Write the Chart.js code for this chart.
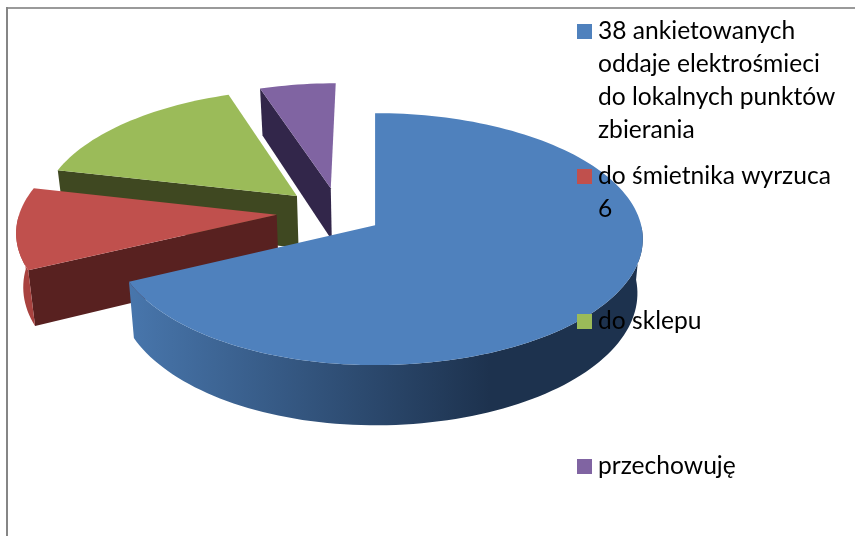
<!DOCTYPE html>
<html>
<head>
<meta charset="utf-8">
<title>Elektrośmieci</title>
<script src="https://cdn.jsdelivr.net/npm/chart.js@4"></script>
<style>
    html, body { margin: 0; padding: 0; background: #fff; }
    canvas { display: block; }
</style>
</head>
<body>
<canvas id="myChart" width="855" height="536"></canvas>
<script>
// chart data
const categories= [
    ['38 ankietowanych', 'oddaje elektrośmieci', 'do lokalnych punktów', 'zbierania'],
    ['do śmietnika wyrzuca', '6'],
    ['do sklepu'],
    ['przechowuję']
];
const values= [38, 6, 9, 3];
const topColors= ['#4F81BD', '#C0504D', '#9BBB59', '#8064A2'];
const cutColors= ['#2A4568', '#582120', '#3F4821', '#32264A'];

// view of the tilted pie, fitted to the picture
const apexX= 375, apexY= 225;       // tip of the blue slice on screen
const shiftU= -0.17, shiftV= -0.106; // real pie centre, relative to that tip
const widthRight= 266, widthLeft= 260, heightY= 124.4, tilt= 0.111, depth= 53.5;
const floorScale= 0.98;             // bottom face looks a bit narrower
const sliceNudge= [0, -3, 3, 7];    // small sideways correction per slice, px

const project= function(u, v, down, idx){
    // plane point (in pie radii) => screen point
    const U= u + shiftU, V= v + shiftV;
    const w= 1 / (1 - tilt * V);
    const dx= (U < 0 ? widthLeft : widthRight) * U * w * (down ? floorScale : 1);
    return [apexX + dx + sliceNudge[idx], apexY + heightY * V * w + (down ? depth * w : 0)];
};

const fillPoly= function(ctx, points, color){
    ctx.beginPath();
    points.forEach((p, i)=> i ? ctx.lineTo(p[0], p[1]) : ctx.moveTo(p[0], p[1]));
    ctx.closePath();
    ctx.fillStyle= color;
    ctx.fill();
};

const drawSlice= function(ctx, arc, idx){
    // one exploded slice: the faces turned to the viewer, then the top
    const e= arc.options.offset / arc.outerRadius;
    const mid= (arc.startAngle + arc.endAngle) / 2;
    const ou= Math.cos(mid) * e, ov= Math.sin(mid) * e;

    const rim= [];
    const steps= Math.ceil((arc.endAngle - arc.startAngle) / 0.03);
    for(let i=0; i<=steps; i++){
        const a= arc.startAngle + (arc.endAngle - arc.startAngle) * i / steps;
        rim.push({a: a, u: ou + Math.cos(a), v: ov + Math.sin(a)});
    }
    const top= rim.map(p => project(p.u, p.v, false, idx));
    const tip= project(ou, ov, false, idx), tipDown= project(ou, ov, true, idx);
    const last= top.length - 1;

    // cut faces: only when they look towards the front
    if(Math.cos(arc.startAngle) < 0)
        fillPoly(ctx, [tip, top[0], project(rim[0].u, rim[0].v, true, idx), tipDown], cutColors[idx]);
    if(Math.cos(arc.endAngle) > 0)
        fillPoly(ctx, [tip, top[last], project(rim[last].u, rim[last].v, true, idx), tipDown], cutColors[idx]);

    // outer wall: only the front half of the circle
    const front= rim.filter(p => Math.sin(p.a) >= 0);
    if(front.length > 1){
        let rimColor= '#A8423F';
        if(idx === 0){
            rimColor= ctx.createLinearGradient(129, 0, 490, 0);
            rimColor.addColorStop(0, '#4876AC');
            rimColor.addColorStop(1, '#1D324E');
        }
        const upper= front.map(p => project(p.u, p.v, false, idx));
        const lower= front.map(p => project(p.u, p.v, true, idx));
        fillPoly(ctx, upper.concat(lower.reverse()), rimColor);
    }

    fillPoly(ctx, [tip].concat(top), topColors[idx]);
};

const piePlugin= {
    id: 'pie3d',
    beforeDatasetDraw(chart, args){
        // back slices first, blue in front
        const arcs= args.meta.data;
        [3, 2, 1, 0].forEach(i => drawSlice(chart.ctx, arcs[i], i));
        return false;
    }
};

const framePlugin= {
    id: 'frame',
    beforeDraw(chart){
        const ctx= chart.ctx;
        ctx.fillStyle= '#9A9A9A';
        ctx.fillRect(6, 7, 849, 2);
        ctx.fillStyle= '#868686';
        ctx.fillRect(6, 7, 2, 529);
    }
};

const legendPlugin= {
    id: 'sideLegend',
    afterDraw(chart){
        // wrapped legend with an even row step, drawn over the pie
        const ctx= chart.ctx;
        ctx.save();
        ctx.font= '24.6px Lato';
        ctx.textBaseline= 'alphabetic';
        categories.forEach((lines, i)=>{
            const rowTop= 24 + i * 145;
            ctx.fillStyle= topColors[i];
            ctx.fillRect(577, rowTop, 15, 15);
            ctx.fillStyle= '#000';
            lines.forEach((line, j)=> ctx.fillText(line, 598, rowTop + 15 + j * 33));
        });
        ctx.restore();
    }
};

new Chart(document.getElementById('myChart'), {
    type: 'pie',
    data: {
        labels: categories,
        datasets: [{
            data: values,
            backgroundColor: topColors,
            borderWidth: 0,
            offset: 49
        }]
    },
    options: {
        responsive: false,
        animation: false,
        plugins: {
            legend: { display: false },
            tooltip: { enabled: false }
        }
    },
    plugins: [framePlugin, piePlugin, legendPlugin]
});
</script>
</body>
</html>
